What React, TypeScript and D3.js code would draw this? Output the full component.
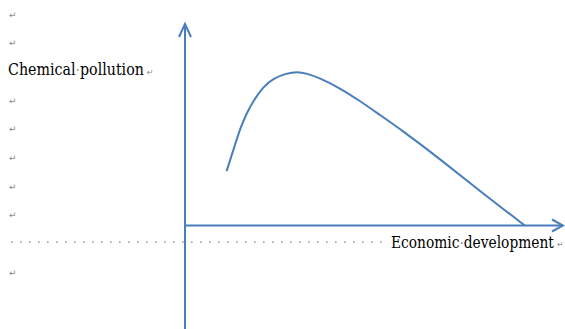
import React, { useLayoutEffect, useRef, useState } from "react";
import * as d3 from "d3";

// Curve: economic development (x) vs chemical pollution (y), abstract units 0..100
const developmentValues = [11.0, 12.8, 14.6, 16.3, 18.1, 20.7, 23.4, 26.9, 29.6, 32.2, 35.7, 40.6, 46.3, 51.6, 56.9, 67.5, 78.0, 89.9];
const pollutionValues = [27.0, 37.5, 48.2, 55.7, 61.9, 68.9, 73.1, 75.5, 76.4, 75.5, 73.1, 68.6, 61.8, 54.8, 47.9, 33.0, 17.1, 0.0];

// Document paragraph lines (Word-style, with paragraph marks)
const paragraphLines = ["", "", "Chemical pollution", "", "", "", "", "", "Economic development", ""];

const W = 565;
const H = 329;
const BLUE = "#4a7ebb";
const MARK = "#8a8a8a";
const SERIF = "DejaVu Serif";

type Fit = { s: number; dotX: number };

function Label({ text, x, y, width }: { text: string; x: number; y: number; width: number }) {
  const ref = useRef<SVGTextElement>(null);
  const [fit, setFit] = useState<Fit>({ s: 1, dotX: -100 });
  useLayoutEffect(() => {
    const el = ref.current;
    if (!el) return;
    const total = el.getComputedTextLength();
    const i = text.indexOf(" ");
    const w1 = el.getSubStringLength(0, i);
    const sp = el.getSubStringLength(i, 1);
    const s = width / total;
    setFit({ s, dotX: (w1 + sp / 2) * s });
  }, [text, width]);
  return (
    <g transform={`translate(${x},${y})`}>
      <text ref={ref} x={0} y={0} fontFamily={SERIF} fontSize={16.5} fill="#000" transform={`scale(${fit.s},1)`}>
        {text}
      </text>
      <circle cx={fit.dotX} cy={-5} r={0.9} fill={MARK} />
    </g>
  );
}

export default function App() {
  const x = d3.scaleLinear().domain([0, 100]).range([185, 563]);
  const y = d3.scaleLinear().domain([0, 100]).range([225.5, 24]);
  const lineY = d3.scaleLinear().domain([0, 1]).range([14, 42.7]);

  const pts: [number, number][] = developmentValues.map((d, i) => [x(d), y(pollutionValues[i])]);
  const path = d3.line().curve(d3.curveBasis)(pts) || "";

  const x0 = x(0);
  const y0 = y(0);
  const xEnd = x(100);
  const yEnd = y(100);

  const leaderY = lineY(8) - 1.5;

  return (
    <div style={{ position: "absolute", left: 0, top: 0, margin: 0 }}>
      <svg width={W} height={H} style={{ display: "block", background: "#fff" }}>
        {/* tab leader dots */}
        <line x1={11} x2={386} y1={leaderY} y2={leaderY} stroke="#a8a8a8" strokeWidth={1.6} strokeDasharray="1.6 7.4" />
        {/* paragraph marks on empty lines */}
        {paragraphLines.map((t, i) =>
          t === "" ? (
            <text key={i} x={9} y={lineY(i) + 3.5} fontFamily="DejaVu Sans" fontSize={9} fill={MARK}>
              ↵
            </text>
          ) : null
        )}
        {/* y label */}
        <Label text={paragraphLines[2]} x={8} y={75} width={136} />
        <text x={147} y={lineY(2) + 3.5} fontFamily="DejaVu Sans" fontSize={8} fill={MARK}>↵</text>
        {/* axes */}
        <line x1={x0} x2={x0} y1={H} y2={yEnd} stroke={BLUE} strokeWidth={2} />
        <polyline points={`${x0 - 6},${yEnd + 13} ${x0},${yEnd} ${x0 + 6},${yEnd + 13}`} fill="none" stroke={BLUE} strokeWidth={2} />
        <line x1={x0} x2={xEnd} y1={y0} y2={y0} stroke={BLUE} strokeWidth={2} />
        <polyline points={`${xEnd - 11},${y0 - 6} ${xEnd},${y0} ${xEnd - 11},${y0 + 6}`} fill="none" stroke={BLUE} strokeWidth={2} />
        {/* curve */}
        <path d={path} fill="none" stroke={BLUE} strokeWidth={2} />
        {/* x label */}
        <Label text={paragraphLines[8]} x={391} y={248} width={163} />
        <text x={557} y={lineY(8) + 3.5} fontFamily="DejaVu Sans" fontSize={7.5} fill={MARK}>↵</text>
      </svg>
    </div>
  );
}
